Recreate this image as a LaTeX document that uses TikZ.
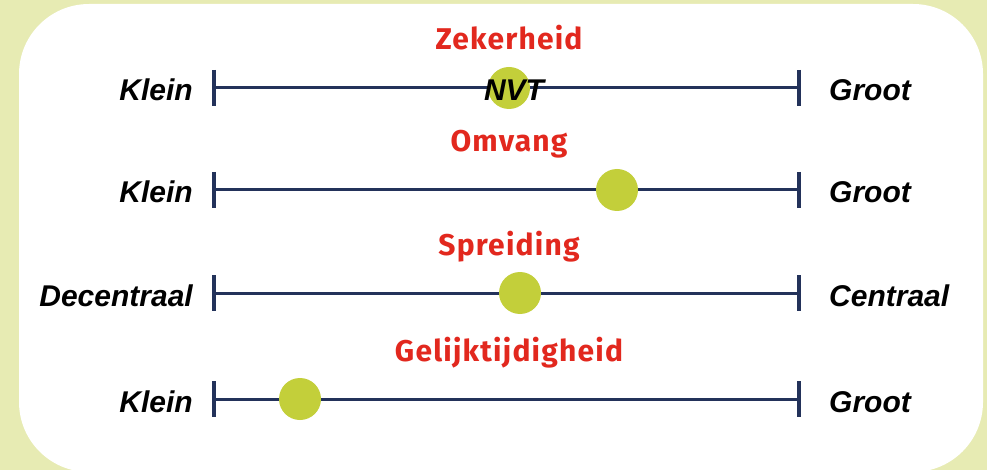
\documentclass[tikz,border=0pt]{standalone}
\usepackage{fontspec}
\setmainfont{Liberation Sans}
\newfontfamily\titlefont[LetterSpace=4]{Fira Sans}
\definecolor{pagebg}{HTML}{E7EBB3}
\definecolor{scaleline}{HTML}{23325A}
\definecolor{marker}{HTML}{C3CF3A}
\definecolor{titlered}{HTML}{E2281E}
\begin{document}
\begin{tikzpicture}[x=1pt,y=-1pt,
  endlabel/.style={font=\fontsize{30}{30}\selectfont\bfseries\itshape, inner sep=0pt, text=black},
  leftlabel/.style={endlabel, anchor=base east},
  rightlabel/.style={endlabel, anchor=base west},
  scaletitle/.style={font=\titlefont\fontsize{30}{30}\selectfont\bfseries, text=titlered, inner sep=0pt, anchor=base},
  axis/.style={draw=scaleline, line width=3pt},
  tick/.style={draw=scaleline, line width=3.2pt},
  dot/.style={circle, fill=marker, minimum size=42pt, inner sep=0pt}]
  % page and white panel
  \fill[pagebg] (0,0) rectangle (987,470);
  \useasboundingbox (0,0) rectangle (987,470);
  \fill[white, rounded corners=70pt] (19,4) rectangle (983,472);

  % scale rows: line y, title, left/right words, marker x
  \foreach \n/\yy/\ttl/\lft/\rgt/\mx in {
      1/88/Zekerheid/Klein/Groot/509,
      2/190/Omvang/Klein/Groot/617,
      3/293/Spreiding/Decentraal/Centraal/520,
      4/399/Gelijktijdigheid/Klein/Groot/300}{
    \coordinate (l\n) at (214,\yy);
    \coordinate (r\n) at (799,\yy);
    \coordinate (lt\n) at (214,\yy-18);
    \coordinate (lb\n) at (214,\yy+18);
    \coordinate (rt\n) at (799,\yy-18);
    \coordinate (rb\n) at (799,\yy+18);
    \draw[axis] (l\n) -- (r\n);
    \draw[tick] (lt\n) -- (lb\n);
    \draw[tick] (rt\n) -- (rb\n);
    \node[dot] (m\n) at (\mx,\yy) {};
    \node[scaletitle] (t\n) at (509,\yy-38) {\ttl};
    \node[leftlabel] (a\n) at (193,\yy+13) {\lft};
    \node[rightlabel] (b\n) at (829,\yy+13) {\rgt};
  }
  \node[endlabel, anchor=base] (nvt) at (514,101) {NVT};
\end{tikzpicture}
\end{document}
